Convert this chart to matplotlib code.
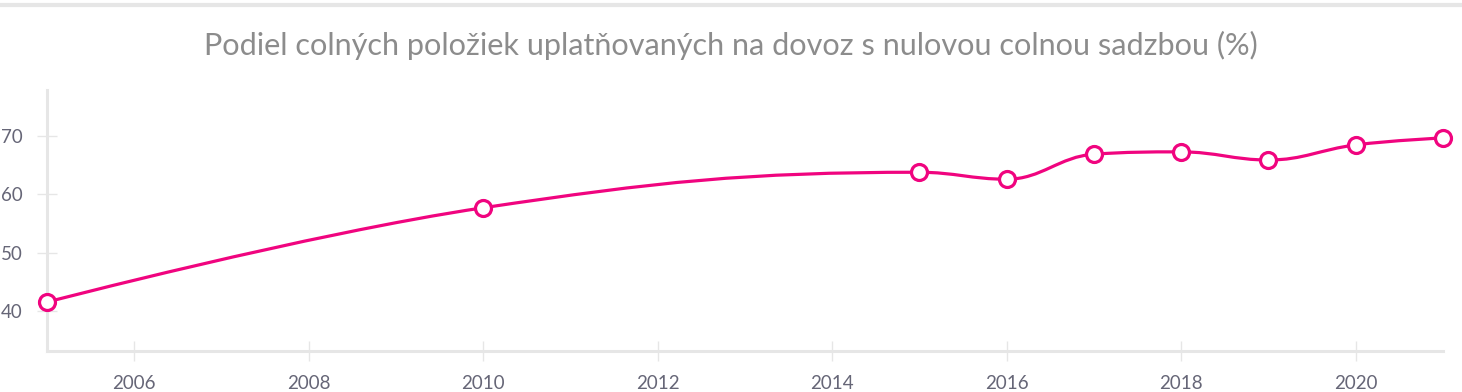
import matplotlib.pyplot as plt
import numpy as np
from matplotlib.path import Path
from matplotlib.patches import PathPatch
from matplotlib.lines import Line2D

years = [2005, 2010, 2015, 2016, 2017, 2018, 2019, 2020, 2021]
share = [41.5, 57.7, 63.8, 62.6, 66.9, 67.3, 65.9, 68.5, 69.7]
y_ticks = [40, 50, 60, 70]
x_ticks = [2006, 2008, 2010, 2012, 2014, 2016, 2018, 2020]
title = 'Podiel colných položiek uplatňovaných na dovoz s nulovou colnou sadzbou (%)'

PINK = '#f0047f'
GRID = '#e6e6e6'
LABEL = '#666677'

plt.rcParams['font.family'] = ['Lato', 'DejaVu Sans']


def spline_path(xs, ys, smoothing=1.5):
    """bezier path like a highcharts spline"""
    n = len(xs)
    denom = smoothing + 1
    left = [(x, y) for x, y in zip(xs, ys)]
    right = [(x, y) for x, y in zip(xs, ys)]
    for i in range(1, n - 1):
        px, py = xs[i], ys[i]
        lx, ly = xs[i - 1], ys[i - 1]
        nx, ny = xs[i + 1], ys[i + 1]
        lcx = (smoothing * px + lx) / denom
        lcy = (smoothing * py + ly) / denom
        rcx = (smoothing * px + nx) / denom
        rcy = (smoothing * py + ny) / denom
        corr = (rcy - lcy) * (rcx - px) / (rcx - lcx) + py - rcy
        lcy += corr
        rcy += corr
        if lcy > ly and lcy > py:
            lcy = max(ly, py)
            rcy = 2 * py - lcy
        elif lcy < ly and lcy < py:
            lcy = min(ly, py)
            rcy = 2 * py - lcy
        if rcy > ny and rcy > py:
            rcy = max(ny, py)
            lcy = 2 * py - rcy
        elif rcy < ny and rcy < py:
            rcy = min(ny, py)
            lcy = 2 * py - rcy
        left[i] = (lcx, lcy)
        right[i] = (rcx, rcy)
    verts = [(xs[0], ys[0])]
    codes = [Path.MOVETO]
    for i in range(1, n):
        verts += [right[i - 1], left[i], (xs[i], ys[i])]
        codes += [Path.CURVE4] * 3
    return Path(verts, codes)


fig = plt.figure(figsize=(14.62, 3.92), dpi=100)
ax = fig.add_axes([0.0321, 0.1046, 0.9549, 0.6654])

ax.add_patch(PathPatch(spline_path(years, share), fill=False, edgecolor=PINK,
                       lw=2.3, clip_on=False, zorder=3))
ax.plot(years, share, 'o', ms=11.5, mfc='white', mec=PINK, mew=2.3,
        clip_on=False, zorder=4)

ax.set_xlim(2005, 2021)
ax.set_ylim(33.1, 77.9)
ax.set_xticks(x_ticks)
ax.set_yticks(y_ticks)

for s in ['top', 'right']:
    ax.spines[s].set_visible(False)
for s in ['left', 'bottom']:
    ax.spines[s].set_color(GRID)
    ax.spines[s].set_linewidth(2.2)

ax.tick_params(axis='both', direction='inout', length=14.5, width=1,
               color=GRID, labelcolor=LABEL, labelsize=13.5)
ax.tick_params(axis='x', pad=10)
ax.tick_params(axis='y', pad=10)

fig.suptitle(title, x=0.5, y=0.92, fontsize=22.1, color='#8c8c8c')
fig.add_artist(Line2D([0, 1], [0.9885, 0.9885], transform=fig.transFigure,
                      color=GRID, lw=3))

fig.savefig('out.png', dpi=100)
